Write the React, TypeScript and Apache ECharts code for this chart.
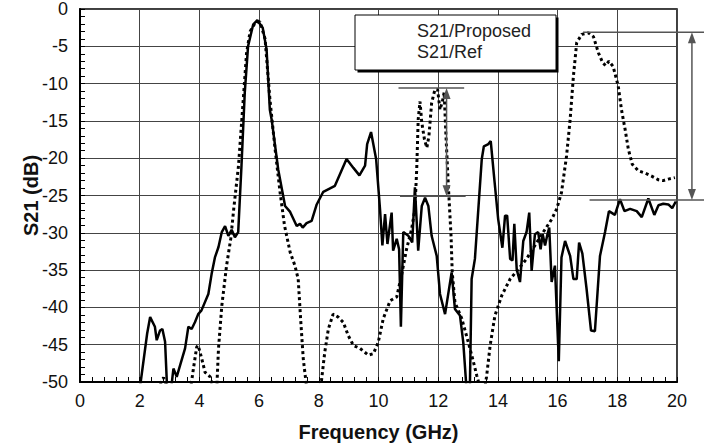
import React, { useEffect, useRef } from "react";
import * as echarts from "echarts";

// S21/Proposed (solid)
const propFreq = [2.0, 2.25, 2.35, 2.51, 2.57, 2.68, 2.76, 2.85, 2.92, 3.05, 3.13, 3.24, 3.35, 3.52, 3.63, 3.74, 3.85, 3.96, 4.07, 4.3, 4.41, 4.52, 4.64, 4.75, 4.86, 4.97, 5.08, 5.19, 5.3, 5.41, 5.52, 5.63, 5.8, 5.94, 6.12, 6.25, 6.36, 6.42, 6.64, 6.87, 7.04, 7.26, 7.37, 7.46, 7.59, 7.76, 7.93, 8.15, 8.54, 8.93, 9.16, 9.36, 9.55, 9.62, 9.75, 9.92, 10.05, 10.13, 10.22, 10.3, 10.44, 10.49, 10.61, 10.69, 10.75, 10.83, 11.0, 11.13, 11.22, 11.33, 11.45, 11.56, 11.67, 11.78, 11.95, 12.06, 12.23, 12.45, 12.56, 12.73, 12.84, 12.95, 13.06, 13.12, 13.23, 13.46, 13.53, 13.68, 13.76, 13.87, 14.01, 14.15, 14.24, 14.31, 14.41, 14.49, 14.55, 14.63, 14.74, 14.85, 14.96, 15.05, 15.13, 15.24, 15.35, 15.43, 15.5, 15.58, 15.66, 15.72, 15.8, 15.91, 16.04, 16.13, 16.25, 16.42, 16.53, 16.64, 16.72, 16.83, 16.97, 17.12, 17.25, 17.42, 17.59, 17.72, 17.92, 18.09, 18.24, 18.43, 18.65, 18.82, 19.04, 19.24, 19.38, 19.54, 19.71, 19.84, 19.96];
const propS21 = [-51, -43.5, -41.3, -42.6, -44.4, -43.1, -42.9, -44.6, -51, -51, -48.2, -49.3, -47.8, -45.5, -42.6, -42.9, -42.0, -40.9, -40.4, -38.2, -35.5, -33.3, -31.9, -29.9, -29.1, -30.4, -29.6, -30.6, -29.9, -21.0, -11.2, -5.0, -2.1, -1.5, -2.5, -5.4, -13.5, -14.8, -21.5, -26.4, -27.2, -29.1, -28.8, -29.3, -28.7, -28.4, -26.2, -24.5, -23.7, -20.1, -21.3, -22.3, -21.0, -18.1, -16.5, -20.1, -26.8, -31.7, -27.5, -31.5, -27.3, -32.4, -30.8, -32.2, -42.6, -29.9, -30.4, -31.3, -23.9, -32.4, -26.4, -25.3, -26.4, -30.4, -33.1, -38.2, -40.9, -35.3, -40.2, -41.1, -44.7, -51, -51, -36.2, -33.5, -20.1, -18.4, -18.1, -17.7, -22.4, -28.2, -32.0, -27.7, -27.7, -33.5, -33.7, -28.8, -34.9, -36.6, -31.1, -29.9, -27.3, -35.1, -30.2, -29.9, -32.2, -30.2, -31.7, -30.2, -29.3, -36.6, -34.4, -47.2, -33.3, -31.1, -33.1, -36.2, -36.2, -31.3, -32.8, -37.5, -43.1, -43.2, -33.1, -29.9, -27.1, -27.6, -25.5, -27.1, -26.8, -27.1, -27.9, -25.4, -27.6, -26.3, -26.1, -26.2, -26.7, -25.8];

// S21/Ref (dotted)
const refFreq = [2.6, 2.8, 2.95, 3.05, 3.7, 3.8, 3.91, 3.96, 4.08, 4.19, 4.36, 4.48, 4.58, 4.64, 4.75, 4.91, 5.05, 5.15, 5.31, 5.47, 5.58, 5.7, 5.86, 6.03, 6.2, 6.36, 6.53, 6.7, 6.85, 7.04, 7.2, 7.31, 7.39, 7.48, 7.6, 8.03, 8.09, 8.2, 8.32, 8.48, 8.65, 8.82, 8.99, 9.16, 9.38, 9.66, 9.83, 9.99, 10.16, 10.39, 10.61, 10.77, 10.94, 11.11, 11.22, 11.28, 11.33, 11.39, 11.45, 11.54, 11.62, 11.69, 11.78, 11.89, 11.98, 12.06, 12.14, 12.2, 12.26, 12.34, 12.43, 12.47, 12.56, 12.79, 13.01, 13.18, 13.29, 13.42, 13.55, 13.62, 13.74, 13.9, 14.13, 14.41, 14.68, 14.96, 15.24, 15.52, 15.8, 15.97, 16.13, 16.3, 16.42, 16.53, 16.64, 16.81, 17.03, 17.2, 17.37, 17.51, 17.61, 17.72, 17.86, 18.03, 18.14, 18.26, 18.37, 18.5, 18.71, 18.93, 19.15, 19.38, 19.54, 19.71, 19.93];
const refS21 = [-51, -49.4, -51, -51, -51, -48.2, -45.3, -45.1, -46.9, -48.7, -49.3, -51, -51, -45.5, -39.8, -34.4, -30.8, -26.8, -21.0, -12.1, -5.9, -3.0, -1.9, -1.7, -4.0, -12.0, -18.6, -24.5, -29.0, -32.6, -34.4, -36.2, -41.5, -46.9, -51, -51, -49.8, -46.0, -42.9, -40.9, -41.3, -42.0, -43.8, -45.1, -45.5, -46.4, -46.2, -44.7, -41.5, -39.1, -38.6, -35.7, -32.2, -29.5, -26.8, -21.5, -14.8, -12.4, -15.2, -17.5, -18.6, -17.0, -12.6, -10.8, -10.8, -13.5, -12.4, -11.2, -17.0, -23.7, -30.4, -35.3, -39.3, -41.5, -44.7, -47.3, -49.1, -51, -51, -49.3, -45.1, -41.1, -38.4, -36.2, -34.9, -33.5, -31.7, -29.9, -28.2, -26.8, -24.6, -19.7, -14.8, -9.0, -4.5, -3.4, -3.2, -3.7, -5.9, -7.2, -7.6, -7.0, -7.7, -10.3, -13.5, -16.1, -18.8, -20.8, -21.7, -22.0, -22.4, -22.9, -23.0, -22.8, -22.6];

// annotation levels (data units)
const midLineX = [10.67, 12.87];
const midLevels = [-10.6, -25.1];
const midArrowX = 12.28;
const rightLineX = [16.85, 21.0];
const rightLevels = [-3.1, -25.6];
const rightArrowX = 20.5;

const seriesNames = ["S21/Proposed", "S21/Ref"];
const FONT = "'Liberation Sans', Arial, Helvetica, sans-serif";
const ANNO = "#555";

export default function App() {
  const ref = useRef<HTMLDivElement>(null);
  useEffect(() => {
    if (!ref.current) return;
    const chart = echarts.init(ref.current, undefined, { renderer: "svg" });
    const axisCommon = {
      type: "value" as const,
      axisLine: { show: true, onZero: false, lineStyle: { color: "#000", width: 2 } },
      axisTick: { show: true, inside: true, length: 5, lineStyle: { color: "#000" } },
      minorTick: { show: true, splitNumber: 5, length: 5, lineStyle: { color: "#000", width: 1 } },
      splitLine: { show: true, lineStyle: { color: "#444", width: 1 } },
    };
    chart.setOption({
      animation: false,
      backgroundColor: "#fff",
      grid: { left: 80, top: 9, right: 27, bottom: 64, show: true, borderColor: "#000", borderWidth: 1.5, backgroundColor: "transparent" },
      xAxis: {
        ...axisCommon,
        min: 0, max: 20, interval: 2,
        name: "Frequency (GHz)", nameLocation: "middle", nameGap: 40,
        nameTextStyle: { fontFamily: FONT, fontWeight: "bold", fontSize: 20, color: "#111" },
        axisLabel: { fontFamily: FONT, fontSize: 18, color: "#111", margin: 10 },
      },
      yAxis: {
        ...axisCommon,
        min: -50, max: 0, interval: 5,
        name: "S21 (dB)", nameLocation: "middle", nameGap: 39, nameRotate: 90,
        nameMoveOverlap: false,
        nameTextStyle: { fontFamily: FONT, fontWeight: "bold", fontSize: 20, color: "#111" },
        axisLabel: { fontFamily: FONT, fontSize: 18, color: "#111", margin: 12 },
      },
      legend: {
        show: true, orient: "vertical", left: 397, top: 17, icon: "none",
        itemWidth: 10, itemHeight: 10, itemGap: 3, z: 10,
        textStyle: { fontFamily: FONT, fontSize: 18, color: "#222" },
        data: seriesNames,
      },
      series: [
        {
          name: seriesNames[0], type: "line", symbol: "none", showSymbol: false, z: 3,
          data: propFreq.map((x, i) => [x, propS21[i]]),
          lineStyle: { color: "#000", width: 2.5 },
          itemStyle: { color: "#000" },
        },
        {
          name: seriesNames[1], type: "line", symbol: "none", showSymbol: false, z: 3,
          data: refFreq.map((x, i) => [x, refS21[i]]),
          lineStyle: { color: "#000", width: 3, type: [3, 3] },
          itemStyle: { color: "#000" },
        },
      ],
    });

    const p = (x: number, y: number) => chart.convertToPixel({ gridIndex: 0 }, [x, y]) as number[];
    const hline = (x0: number, x1: number, y: number) => {
      const a = p(x0, y), b = p(x1, y);
      return { type: "line", z: 6, shape: { x1: a[0], y1: a[1], x2: b[0], y2: b[1] }, style: { stroke: ANNO, lineWidth: 1.5 } };
    };
    const arrow = (x: number, yTop: number, yBot: number) => {
      const a = p(x, yTop), b = p(x, yBot);
      const hw = 4, hl = 11;
      return [
        { type: "line", z: 6, shape: { x1: a[0], y1: a[1] + hl - 1, x2: b[0], y2: b[1] - hl + 1 }, style: { stroke: ANNO, lineWidth: 1.5 } },
        { type: "polygon", z: 6, shape: { points: [[a[0], a[1]], [a[0] - hw, a[1] + hl], [a[0] + hw, a[1] + hl]] }, style: { fill: ANNO } },
        { type: "polygon", z: 6, shape: { points: [[b[0], b[1]], [b[0] - hw, b[1] - hl], [b[0] + hw, b[1] - hl]] }, style: { fill: ANNO } },
      ];
    };
    chart.setOption({
      graphic: [
        { type: "rect", z: 5, shape: { x: 357.5, y: 17.5, width: 201, height: 55 }, style: { fill: "#000" } },
        { type: "rect", z: 5, shape: { x: 355, y: 15, width: 201, height: 55 }, style: { fill: "#fff", stroke: "#000", lineWidth: 1 } },
        hline(midLineX[0], midLineX[1], midLevels[0]),
        hline(midLineX[0] + 0.05, midLineX[1] + 0.05, midLevels[1]),
        ...arrow(midArrowX, midLevels[0], midLevels[1]),
        hline(rightLineX[0], rightLineX[1], rightLevels[0]),
        hline(rightLineX[0] + 0.22, rightLineX[1], rightLevels[1]),
        ...arrow(rightArrowX, rightLevels[0], rightLevels[1]),
      ],
    });
    return () => chart.dispose();
  }, []);
  return <div ref={ref} style={{ width: 704, height: 447, position: "absolute", left: 0, top: 0 }} />;
}
